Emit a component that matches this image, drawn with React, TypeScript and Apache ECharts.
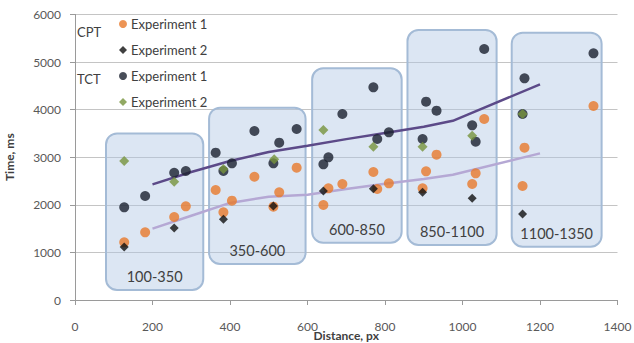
import React, { useEffect, useRef } from "react";
import * as echarts from "echarts";

// CPT Experiment 1 (orange circles) [distance, time]
const cptExp1: number[][] = [
  [127, 1212], [181, 1422], [256, 1744], [286, 1968],
  [363, 2311], [383, 1842], [405, 2087], [463, 2590], [512, 1960], [527, 2262], [572, 2780],
  [641, 1996], [654, 2346], [690, 2437], [770, 2689], [780, 2332], [810, 2451],
  [897, 2346], [906, 2703], [933, 3053], [1025, 2437], [1034, 2661], [1056, 3803],
  [1155, 2395], [1160, 3200], [1338, 4075],
];
// CPT Experiment 2 (black diamonds)
const cptExp2: number[][] = [
  [127, 1113], [256, 1513], [383, 1695], [512, 1975],
  [641, 2290], [770, 2339], [897, 2262], [1025, 2136], [1155, 1807],
];
// TCT Experiment 1 (black circles)
const tctExp1: number[][] = [
  [127, 1947], [181, 2185], [256, 2674], [286, 2710],
  [363, 3095], [383, 2710], [405, 2871], [463, 3550], [512, 2871], [527, 3305], [572, 3592],
  [641, 2850], [654, 2997], [690, 3907], [770, 4468], [780, 3382], [810, 3523],
  [897, 3382], [906, 4166], [933, 3977], [1025, 3670], [1034, 3326], [1056, 5273],
  [1155, 3908], [1160, 4657], [1338, 5182],
];
// TCT Experiment 2 (green diamonds)
const tctExp2: number[][] = [
  [127, 2920], [256, 2485], [383, 2752], [514, 2955],
  [641, 3571], [770, 3221], [897, 3221], [1025, 3452], [1155, 3908],
];
// Trend lines
const tctTrend: number[][] = [
  [200, 2430], [300, 2690], [400, 2920], [500, 3110], [600, 3240], [700, 3380],
  [800, 3510], [900, 3640], [975, 3765], [1200, 4530],
];
const cptTrend: number[][] = [
  [200, 1500], [300, 1770], [400, 2040], [500, 2170], [600, 2210], [700, 2330],
  [800, 2440], [900, 2540], [975, 2630], [1200, 3080],
];
// Range boxes: [xStart, xEnd, yBottom, yTop]
const boxes: number[][] = [
  [80, 331, 210, 3500],
  [346, 595, 756, 4040],
  [612, 843, 1204, 4868],
  [858, 1088, 1155, 5672],
  [1127, 1359, 1120, 5616],
];
const boxLabels: string[] = ["100-350", "350-600", "600-850", "850-1100", "1100-1350"];
const xTicks = { min: 0, max: 1400, interval: 200 };
const yTicks = { min: 0, max: 6000, interval: 1000 };

const FONT = "Lato";
const ORANGE = "#e8792a";
const DARK = "#1a202e";
const BLACK = "#101010";
const GREEN = "#77933c";

export default function App() {
  const ref = useRef<HTMLDivElement>(null);
  useEffect(() => {
    if (!ref.current) return;
    const chart = echarts.init(ref.current, undefined, { renderer: "svg" });
    const labelNames = ["CPT Experiment 1", "CPT Experiment 2", "TCT Experiment 1", "TCT Experiment 2"];
    chart.setOption({
      animation: false,
      textStyle: { fontFamily: FONT },
      grid: { left: 75, right: 16.5, top: 14.4, bottom: 43, containLabel: false, outerBoundsMode: "none" },
      xAxis: {
        type: "value",
        min: xTicks.min,
        max: xTicks.max,
        interval: xTicks.interval,
        name: "Distance, px",
        nameLocation: "middle",
        nameGap: 29,
        nameMoveOverlap: false,
        nameTextStyle: { fontFamily: FONT, fontSize: 12, fontWeight: "bold", color: "#404040", verticalAlign: "top" },
        axisLine: { show: true, lineStyle: { color: "#9a9a9a" } },
        axisTick: { show: true, length: 5, lineStyle: { color: "#9a9a9a" } },
        axisLabel: { fontFamily: FONT, fontSize: 12, color: "#595959", margin: 20, formatter: (v: number) => String(v) },
        splitLine: { show: false },
      },
      yAxis: {
        type: "value",
        min: yTicks.min,
        max: yTicks.max,
        interval: yTicks.interval,
        name: "Time, ms",
        nameLocation: "middle",
        nameGap: 60,
        nameMoveOverlap: false,
        nameTextStyle: { fontFamily: FONT, fontSize: 12, fontWeight: "bold", color: "#404040" },
        axisLine: { show: true, lineStyle: { color: "#9a9a9a" } },
        axisTick: { show: true, length: 5, lineStyle: { color: "#9a9a9a" } },
        axisLabel: { fontFamily: FONT, fontSize: 12, color: "#595959", margin: 14, formatter: (v: number) => String(v) },
        splitLine: { show: true, lineStyle: { color: "#c4c4c4", width: 1 } },
      },
      legend: {
        orient: "vertical",
        left: 114,
        top: 12,
        itemWidth: 8,
        itemHeight: 8,
        itemGap: 12,
        data: [
          { name: labelNames[0], icon: "circle" },
          { name: labelNames[1], icon: "diamond" },
          { name: labelNames[2], icon: "circle" },
          { name: labelNames[3], icon: "diamond" },
        ],
        formatter: (n: string) => n.replace(/^(CPT|TCT) /, ""),
        textStyle: { fontFamily: FONT, fontSize: 13, color: "#404040", lineHeight: 14, padding: [0, 0, 0, -1] },
        selectedMode: false,
      },
      graphic: [
        { type: "text", left: 77, top: 25, style: { text: "CPT", font: `13px ${FONT}`, fill: "#404040" } },
        { type: "text", left: 77, top: 72, style: { text: "TCT", font: `13px ${FONT}`, fill: "#404040" } },
      ],
      series: [
        {
          type: "custom",
          name: "ranges",
          z: 1,
          silent: true,
          encode: { x: [0, 1], y: [2, 3] },
          data: boxes,
          renderItem: (params: any, api: any) => {
            const p0 = api.coord([api.value(0), api.value(3)]);
            const p1 = api.coord([api.value(1), api.value(2)]);
            return {
              type: "group",
              children: [
                {
                  type: "rect",
                  shape: { x: p0[0], y: p0[1], width: p1[0] - p0[0], height: p1[1] - p0[1], r: 11 },
                  style: { fill: "rgba(178,199,228,0.45)", stroke: "#a4bbd6", lineWidth: 2 },
                },
                {
                  type: "text",
                  x: (p0[0] + p1[0]) / 2,
                  y: p1[1] - 6,
                  style: {
                    text: boxLabels[params.dataIndex],
                    font: `14.5px ${FONT}`,
                    fill: "#404040",
                    align: "center",
                    verticalAlign: "bottom",
                  },
                },
              ],
            };
          },
        },
        {
          type: "line",
          name: "CPT trend",
          z: 3,
          data: cptTrend,
          showSymbol: false,
          lineStyle: { color: "#b5a8d4", width: 2.5 },
          silent: true,
        },
        {
          type: "line",
          name: "TCT trend",
          z: 3,
          data: tctTrend,
          showSymbol: false,
          lineStyle: { color: "#5c4a88", width: 2.5 },
          silent: true,
        },
        {
          type: "scatter",
          name: labelNames[0],
          z: 4,
          data: cptExp1,
          symbol: "circle",
          symbolSize: 10,
          itemStyle: { color: ORANGE },
        },
        {
          type: "scatter",
          name: labelNames[2],
          z: 4,
          data: tctExp1,
          symbol: "circle",
          symbolSize: 10,
          itemStyle: { color: DARK },
        },
        {
          type: "scatter",
          name: labelNames[1],
          z: 5,
          data: cptExp2,
          symbol: "diamond",
          symbolSize: 9,
          itemStyle: { color: BLACK },
        },
        {
          type: "scatter",
          name: labelNames[3],
          z: 5,
          data: tctExp2,
          symbol: "diamond",
          symbolSize: 10,
          itemStyle: { color: GREEN },
        },
      ],
    });
    return () => chart.dispose();
  }, []);
  return (
    <div
      ref={ref}
      style={{ position: "fixed", left: 0, top: 0, width: 634, height: 343, background: "#fff" }}
    />
  );
}
